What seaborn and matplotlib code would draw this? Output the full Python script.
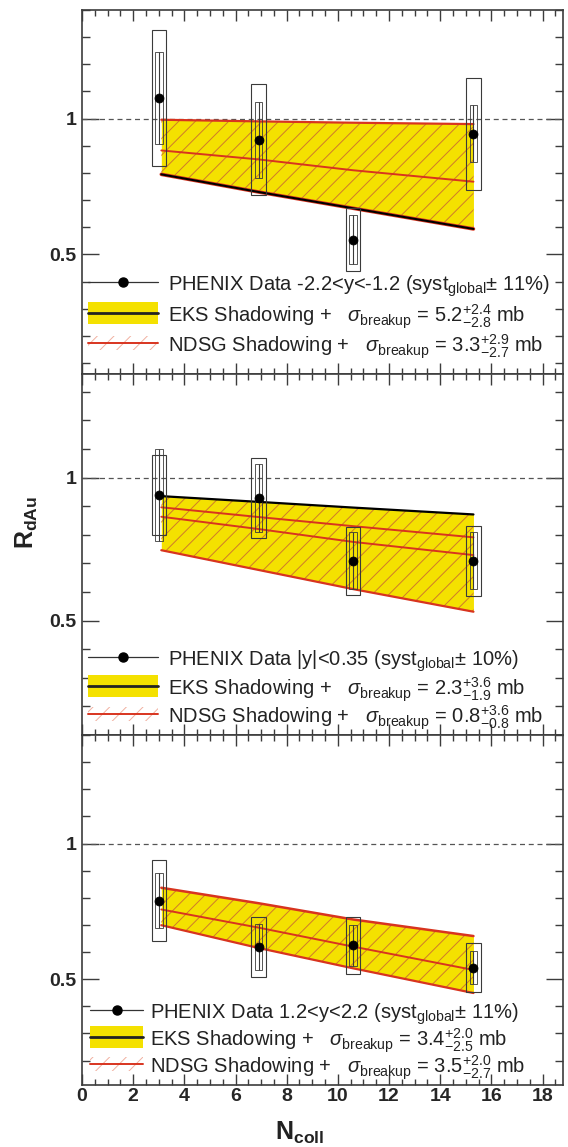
import matplotlib
matplotlib.use("Agg")
import matplotlib.pyplot as plt
import seaborn as sns
import pandas as pd
import numpy as np
from matplotlib.patches import Rectangle
from matplotlib.ticker import MultipleLocator, FixedLocator

sns.set_theme(style="ticks")
plt.rcParams["font.family"] = ["Liberation Sans", "DejaVu Sans"]
plt.rcParams["mathtext.fontset"] = "custom"
plt.rcParams["mathtext.rm"] = "Liberation Sans"
plt.rcParams["mathtext.it"] = "Liberation Sans:italic"
plt.rcParams["mathtext.bf"] = "Liberation Sans:bold"
plt.rcParams["hatch.linewidth"] = 0.7

# ---- data -------------------------------------------------------------
ncoll = [3.0, 6.9, 10.6, 15.3]
model_ncoll = [3.1, 6.9, 10.6, 15.3]

# backward rapidity, -2.2 < y < -1.2
bwd_rdau = [1.075, 0.923, 0.555, 0.944]
bwd_stat = [0.17, 0.14, 0.09, 0.105]
bwd_syst = [0.25, 0.205, 0.115, 0.205]
bwd_band_hi = [0.996, 0.990, 0.985, 0.980]
bwd_band_mid = [0.883, 0.850, 0.810, 0.768]
bwd_band_lo = [0.795, 0.730, 0.670, 0.594]

# mid rapidity, |y| < 0.35
mid_rdau = [0.939, 0.929, 0.709, 0.709]
mid_stat = [0.16, 0.12, 0.10, 0.10]
mid_syst = [0.14, 0.14, 0.118, 0.122]
mid_band_hi = [0.935, 0.915, 0.895, 0.871]
mid_band_mid1 = [0.896, 0.862, 0.830, 0.791]
mid_band_mid2 = [0.863, 0.820, 0.775, 0.729]
mid_band_lo = [0.746, 0.677, 0.610, 0.531]

# forward rapidity, 1.2 < y < 2.2
fwd_rdau = [0.790, 0.619, 0.625, 0.543]
fwd_stat = [0.10, 0.085, 0.075, 0.062]
fwd_syst = [0.15, 0.11, 0.105, 0.09]
fwd_band_hi = [0.837, 0.780, 0.720, 0.659]
fwd_band_mid = [0.757, 0.690, 0.620, 0.534]
fwd_band_lo = [0.699, 0.615, 0.540, 0.449]

bwd_labels = [r"PHENIX Data -2.2<y<-1.2 (syst$_{\mathrm{global}}$$\pm$ 11%)",
              r"EKS Shadowing +   $\sigma_{\mathrm{breakup}}$ = $5.2^{+2.4}_{-2.8}$ mb",
              r"NDSG Shadowing +   $\sigma_{\mathrm{breakup}}$ = $3.3^{+2.9}_{-2.7}$ mb"]
mid_labels = [r"PHENIX Data |y|<0.35 (syst$_{\mathrm{global}}$$\pm$ 10%)",
              r"EKS Shadowing +   $\sigma_{\mathrm{breakup}}$ = $2.3^{+3.6}_{-1.9}$ mb",
              r"NDSG Shadowing +   $\sigma_{\mathrm{breakup}}$ = $0.8^{+3.6}_{-0.8}$ mb"]
fwd_labels = [r"PHENIX Data 1.2<y<2.2 (syst$_{\mathrm{global}}$$\pm$ 11%)",
              r"EKS Shadowing +   $\sigma_{\mathrm{breakup}}$ = $3.4^{+2.0}_{-2.5}$ mb",
              r"NDSG Shadowing +   $\sigma_{\mathrm{breakup}}$ = $3.5^{+2.0}_{-2.7}$ mb"]

x_ticks = [0, 2, 4, 6, 8, 10, 12, 14, 16, 18]

# ---- style ------------------------------------------------------------
YELLOW = "#f4e100"
HATCH = "#cf7a2a"
RED = "#d8341f"
BOXC = "#3a3a3a"
SPINE = "#3c3c3c"

W, H = 568, 1147
fig = plt.figure(figsize=(W / 100, H / 100), dpi=100)
X0, X1 = 82, 563
XMAX = 18.8

panels = [
    dict(px=(10, 374), ylim=(0.06, 1.40), rdau=bwd_rdau, stat=bwd_stat, syst=bwd_syst,
         hi=bwd_band_hi, lo=bwd_band_lo,
         lines=[(bwd_band_hi, RED, 1.6), (bwd_band_mid, RED, 1.4),
                (bwd_band_lo, RED, 2.6), (bwd_band_lo, "black", 1.5)],
         labels=bwd_labels, rows=(282, 313, 343), hx=(88, 158), tx=168),
    dict(px=(374, 735), ylim=(0.10, 1.362), rdau=mid_rdau, stat=mid_stat, syst=mid_syst,
         hi=mid_band_hi, lo=mid_band_lo,
         lines=[(mid_band_hi, "black", 1.6), (mid_band_mid1, RED, 1.4),
                (mid_band_mid2, RED, 1.4), (mid_band_lo, RED, 1.6)],
         labels=mid_labels, rows=(657, 686, 714), hx=(88, 158), tx=168),
    dict(px=(735, 1085), ylim=(0.11, 1.40), rdau=fwd_rdau, stat=fwd_stat, syst=fwd_syst,
         hi=fwd_band_hi, lo=fwd_band_lo,
         lines=[(fwd_band_hi, RED, 1.8), (fwd_band_mid, RED, 1.4), (fwd_band_lo, RED, 1.6)],
         labels=fwd_labels, rows=(1010, 1037, 1064), hx=(90, 143), tx=150),
]


def draw_key(ax, p):
    top, bot = p["px"]
    hpx = bot - top
    wpx = X1 - X0
    fx = lambda x: (x - X0) / wpx
    fy = lambda y: (bot - y) / hpx
    t = ax.transAxes
    xa, xb = fx(p["hx"][0]), fx(p["hx"][1])
    r0, r1, r2 = (fy(r) for r in p["rows"])
    # data entry
    ax.plot([xa, xb], [r0, r0], color="#333333", lw=0.9, transform=t, clip_on=False, zorder=8)
    ax.plot([(xa + xb) / 2], [r0], "o", color="black", ms=6.5, transform=t, zorder=8)
    # EKS entry
    h = 22 / hpx
    ax.add_patch(Rectangle((xa, r1 - h / 2), xb - xa, h, transform=t, facecolor=YELLOW,
                           edgecolor="none", zorder=7))
    ax.plot([xa, xb], [r1, r1], color="#222222", lw=2.0, transform=t, zorder=8)
    # NDSG entry
    h = 14 / hpx
    ax.add_patch(Rectangle((xa, r2 - h / 2), xb - xa, h, transform=t, facecolor="none",
                           edgecolor="#f0b0a0", hatch="//", lw=0, zorder=7))
    ax.plot([xa, xb], [r2, r2], color=RED, lw=1.4, transform=t, zorder=8)
    for r, lab in zip((r0, r1, r2), p["labels"]):
        ax.text(fx(p["tx"]), r, lab, transform=t, fontsize=14.5, color="#222222",
                ha="left", va="center_baseline", zorder=9)


axes = []
for i, p in enumerate(panels):
    top, bot = p["px"]
    ax = fig.add_axes([X0 / W, 1 - bot / H, (X1 - X0) / W, (bot - top) / H])
    axes.append(ax)
    ax.set_xlim(0, XMAX)
    ax.set_ylim(*p["ylim"])
    ax.axhline(1.0, color="#555555", lw=0.9, ls=(0, (4, 3)), zorder=1)

    # model bands
    ax.fill_between(model_ncoll, p["lo"], p["hi"], color=YELLOW, lw=0, zorder=2)
    ax.fill_between(model_ncoll, p["lo"], p["hi"], facecolor="none", edgecolor=HATCH,
                    hatch="//", lw=0, zorder=3)
    for vals, col, lw in p["lines"]:
        df = pd.DataFrame({"ncoll": model_ncoll, "rdau": vals})
        sns.lineplot(data=df, x="ncoll", y="rdau", color=col, lw=lw, ax=ax, zorder=4)

    # data with uncertainties
    rd = np.array(p["rdau"])
    sy = np.array(p["syst"])
    st = np.array(p["stat"])
    ax.bar(ncoll, 2 * sy, bottom=rd - sy, width=0.56, fill=False, edgecolor=BOXC,
           lw=0.8, zorder=5)
    ax.bar(ncoll, 2 * st, bottom=rd - st, width=0.3, fill=False, edgecolor=BOXC,
           lw=0.6, zorder=5)
    ax.errorbar(ncoll, rd, yerr=st, fmt="none", ecolor=BOXC, elinewidth=0.8,
                capsize=0, zorder=5)
    sns.scatterplot(x=ncoll, y=p["rdau"], color="black", edgecolor="black", s=42,
                    ax=ax, zorder=6, legend=False)

    draw_key(ax, p)

    # axes cosmetics
    ax.set_xlabel("")
    ax.set_ylabel("")
    ax.xaxis.set_major_locator(FixedLocator(x_ticks))
    ax.xaxis.set_minor_locator(MultipleLocator(0.5))
    ax.set_yticks([0.5, 1.0], labels=["0.5", "1"])
    ax.yaxis.set_minor_locator(MultipleLocator(0.1))
    ax.tick_params(which="both", direction="in", top=True, right=True, color=SPINE,
                   width=1.0)
    ax.tick_params(axis="y", which="major", length=12, labelsize=14, pad=4)
    ax.tick_params(axis="y", which="minor", length=6)
    ax.tick_params(axis="x", which="major", length=8, labelsize=14, pad=2)
    ax.tick_params(axis="x", which="minor", length=4)
    for lab in ax.get_yticklabels():
        lab.set_fontweight("bold")
    if i < 2:
        ax.tick_params(axis="x", labelbottom=False)
    else:
        ax.set_xticks(x_ticks, labels=[str(v) for v in x_ticks])
        for lab in ax.get_xticklabels():
            lab.set_fontweight("bold")
    for s in ax.spines.values():
        s.set_color(SPINE)
        s.set_linewidth(1.2)
    ax.set_facecolor("white")

fig.text(27 / W, 1 - 522 / H, r"$\mathbf{R}_{\mathbf{dAu}}$", rotation=90, fontsize=18,
         ha="center", va="center", color="#222222")
fig.text(300 / W, 1 - 1133 / H, r"$\mathbf{N}_{\mathbf{coll}}$", fontsize=18,
         ha="center", va="center", color="#222222")

fig.savefig("out.png", dpi=100, facecolor="white")
